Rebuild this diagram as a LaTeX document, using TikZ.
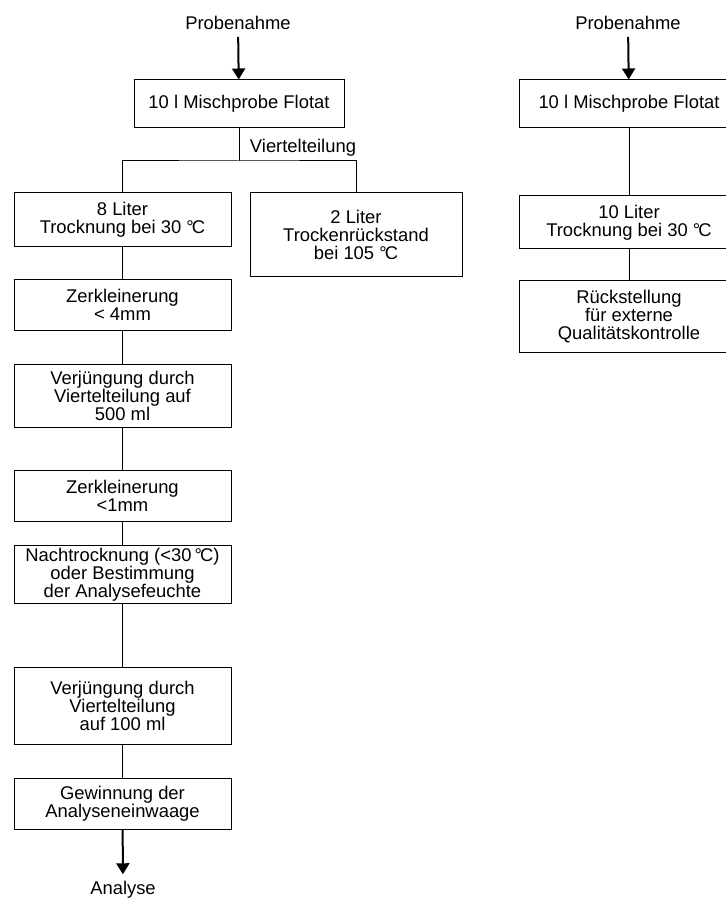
\documentclass[tikz,border=0pt]{standalone}
\usepackage{fontspec}
\setmainfont{Liberation Sans}
\usetikzlibrary{arrows.meta}
\newcommand{\gradC}{°\kern-0.1em C}

\begin{document}
\begin{tikzpicture}[x=0.5pt,y=-0.5pt,font=\fontsize{9.2}{9}\selectfont,line width=0.5pt,
  stepbox/.style={shape=rectangle,draw=black,align=center,inner sep=1pt},
  flow/.style={line width=1pt,-{Triangle[width=6.5pt,length=5.5pt]}}]
\useasboundingbox (0,0) rectangle (725,903);
% linke Seite
\node (probeL) at (238,23) {Probenahme};
\node[stepbox,minimum width=105pt,minimum height=24pt] (mischL) at (239,104) {10 l Mischprobe Flotat};
\coordinate (splitL) at (239,161);
\node (viertel) at (303,148) {Viertelteilung};
\node[stepbox,minimum width=108.5pt,minimum height=27pt] (liter8) at (122.5,220) {8 Liter\\Trocknung bei 30 \gradC};
\node[stepbox,minimum width=106pt,minimum height=42pt] (liter2) at (356,234.5) {2 Liter\\Trockenrückstand\\bei 105 \gradC};
\node[stepbox,minimum width=108.5pt,minimum height=25pt] (zerk4) at (122.5,305) {Zerkleinerung\\< 4mm};
\node[stepbox,minimum width=108.5pt,minimum height=31.5pt] (verj500) at (122.5,395.5) {Verjüngung durch\\Viertelteilung auf\\500 ml};
\node[stepbox,minimum width=108.5pt,minimum height=25.5pt] (zerk1) at (122.5,495.5) {Zerkleinerung\\<1mm};
\node[stepbox,minimum width=108.5pt,minimum height=28.5pt] (nachtr) at (122.5,574.5) {Nachtrocknung (<30\,\gradC)\\oder Bestimmung\\der Analysefeuchte};
\node[stepbox,minimum width=108.5pt,minimum height=38.5pt] (verj100) at (122.5,705.5) {Verjüngung durch\\Viertelteilung\\auf 100 ml};
\node[stepbox,minimum width=108.5pt,minimum height=25.5pt] (gewinn) at (122.5,803.5) {Gewinnung der\\Analyseneinwaage};
\node (analyse) at (123,890) {Analyse};
\draw[flow] (probeL) -- (mischL);
\path [] (mischL) edge (splitL);
\draw (liter8.north) |- (splitL) -| (liter2.north);
\path [] (liter8) edge (zerk4);
\path [] (zerk4) edge (verj500);
\path [] (verj500) edge (zerk1);
\path [] (zerk1) edge (nachtr);
\path [] (nachtr) edge (verj100);
\path [] (verj100) edge (gewinn);
\draw[flow] (gewinn) -- (analyse);
% rechte Seite
\node (probeR) at (628,23) {Probenahme};
\node[stepbox,minimum width=110pt,minimum height=24pt] (mischR) at (629,104) {10 l Mischprobe Flotat};
\node[stepbox,minimum width=110pt,minimum height=26.5pt] (liter10) at (629,222.5) {10 Liter\\Trocknung bei 30 \gradC};
\node[stepbox,minimum width=110pt,minimum height=35.5pt] (rueckst) at (629,316.5) {Rückstellung\\für externe\\Qualitätskontrolle};
\draw[flow] (probeR) -- (mischR);
\path [] (mischR) edge (liter10);
\path [] (liter10) edge (rueckst);
\end{tikzpicture}
\end{document}
